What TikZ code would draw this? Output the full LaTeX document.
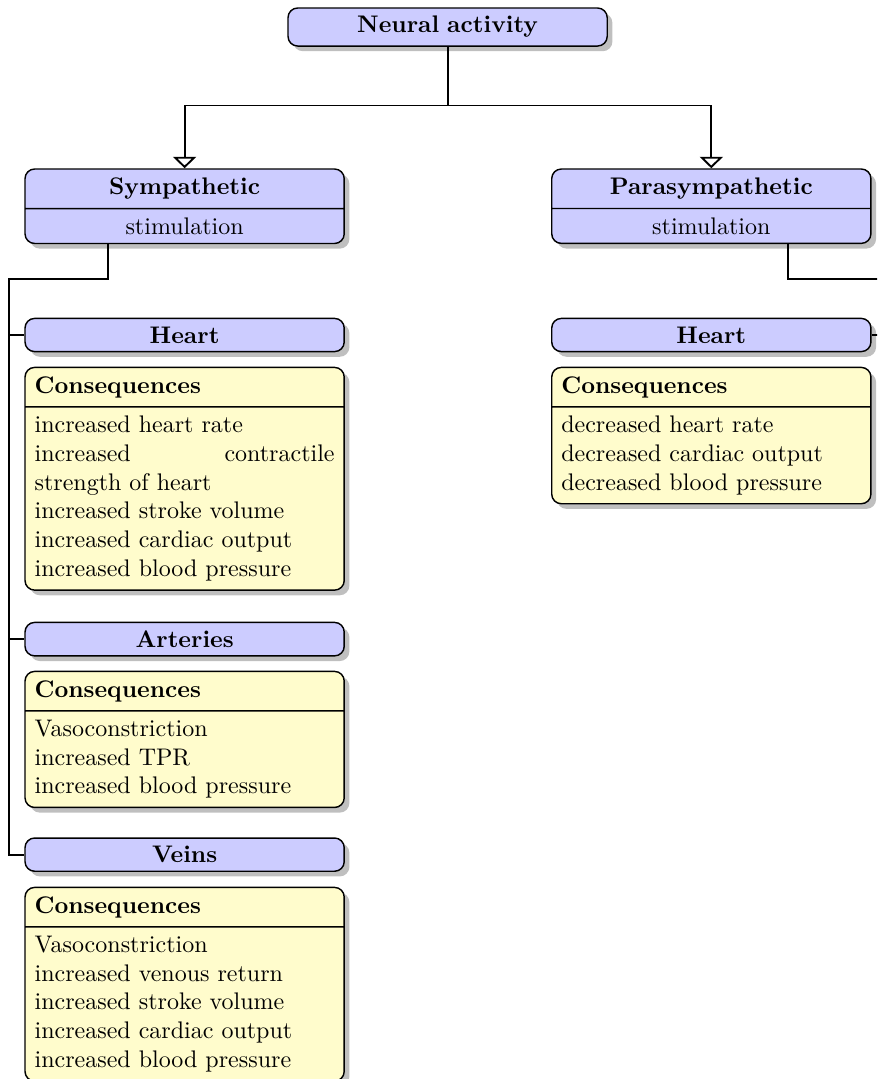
\documentclass[tikz,border=0pt]{standalone}
\usetikzlibrary{shapes.multipart,shadows,arrows.meta,calc}
\begin{document}
\begin{tikzpicture}[x=0.41667pt,y=-0.41667pt,
  box/.style={draw, semithick, rounded corners=4pt, drop shadow, text width=125pt,
    inner xsep=4pt, inner ysep=3.45pt, anchor=north west},
  titlebox/.style={box, fill=blue!20, align=center, font=\bfseries},
  splitbox/.style={box, fill=blue!20, align=center, rectangle split, rectangle split parts=2},
  consbox/.style={box, fill=yellow!20, align=justify, rectangle split, rectangle split parts=2},
  conn/.style={thick},
  arr/.style={conn, -{Triangle[open, width=9.6pt, length=4.8pt]}}]
\useasboundingbox (0,0) rectangle (877,1079);
\clip (0,0) rectangle (877,1079);

\node[titlebox] (neural) at (287.3,7.3) {Neural activity};
\node[splitbox] (sym) at (24.3,168.3) {\textbf{Sympathetic}\nodepart{two}stimulation};
\node[splitbox] (para) at (551,168.3) {\textbf{Parasympathetic}\nodepart{two}stimulation};

\node[titlebox] (heartS) at (24.3,317.7) {Heart};
\node[consbox] (consS1) at (24.3,366.7) {\textbf{Consequences}\nodepart{two}increased heart rate\\increased contractile strength of heart\\increased stroke volume\\increased cardiac output\\increased blood pressure};
\node[titlebox] (artS) at (24.3,621.7) {Arteries};
\node[consbox] (consS2) at (24.3,670.7) {\textbf{Consequences}\nodepart{two}Vasoconstriction\\increased TPR\\increased blood pressure};
\node[titlebox] (veinS) at (24.3,837.3) {Veins};
\node[consbox] (consS3) at (24.3,886.7) {\textbf{Consequences}\nodepart{two}Vasoconstriction\\increased venous return\\increased stroke volume\\increased cardiac output\\increased blood pressure};

\node[titlebox] (heartP) at (551,317.7) {Heart};
\node[consbox] (consP) at (551,366.7) {\textbf{Consequences}\nodepart{two}decreased heart rate\\decreased cardiac output\\decreased blood pressure};

\coordinate (busy) at (0,105.5);
\coordinate (bus) at (neural.south |- busy);
\draw[conn] (neural.south) -- (bus);
\draw[arr] (bus) -| (sym.north);
\draw[arr] (bus) -| (para.north);

\coordinate (symout) at ($(sym.south west)+(84,0)$);
\coordinate (trunkS) at (9,279.3);
\draw[conn] (symout) |- (trunkS) |- (veinS.west);
\draw[conn] (trunkS |- heartS.west) -- (heartS.west);
\draw[conn] (trunkS |- artS.west) -- (artS.west);

\coordinate (paraout) at ($(para.south east)+(-84,0)$);
\coordinate (trunkP) at (885,279.3);
\draw[conn] (paraout) |- (trunkP) |- (heartP.east);
\end{tikzpicture}
\end{document}
